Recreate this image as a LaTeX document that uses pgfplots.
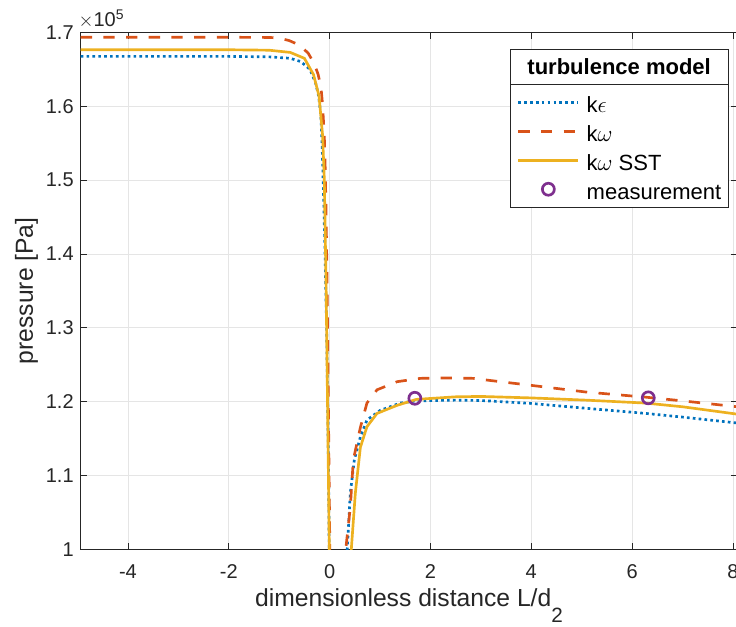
\documentclass[border=0pt]{standalone}
\usepackage{pgfplots}
\pgfplotsset{compat=1.18}
\usepackage{fontspec}
\setmainfont{Liberation Sans}
\usetikzlibrary{calc}
\definecolor{c1}{rgb}{0,0.447,0.741}
\definecolor{c2}{rgb}{0.85,0.325,0.098}
\definecolor{c3}{rgb}{0.929,0.694,0.125}
\definecolor{c4}{rgb}{0.494,0.184,0.556}
\definecolor{axc}{rgb}{0.15,0.15,0.15}

\pgfplotstableread{
x y
-4.937 166770
-3.0 166770
-2.0 166760
-1.2 166700
-0.78 166500
-0.57 166050
-0.39 165000
-0.28 163200
-0.22 161500
-0.177 159000
-0.15 155000
-0.12 148000
-0.09 140000
-0.06 130000
-0.035 118000
-0.018 108000
-0.005 97000
0.335 97000
0.35 100000
0.41 107600
0.49 112100
0.61 115200
0.74 117500
1.0 118800
1.40 119800
1.72 120100
2.5 120200
3.0 120150
4.0 119750
5.08 119100
6.27 118400
7.0 117900
8.085 117100
}\ke

\pgfplotstableread{
x y
-4.937 169360
-2.0 169350
-1.2 169330
-1.0 169250
-0.8 168900
-0.6 168300
-0.425 167200
-0.3 165700
-0.227 164300
-0.17 162500
-0.142 160400
-0.106 156100
-0.085 151000
-0.07 145400
-0.05 136000
-0.035 126000
-0.015 113000
0.0 103000
0.01 97000
0.31 97000
0.32 100000
0.41 105700
0.47 112100
0.61 116500
0.74 119800
0.94 121600
1.34 122700
1.80 123150
2.3 123200
2.85 123150
3.2 122850
4.0 122200
5.08 121300
6.27 120600
7.0 120100
8.085 119300
}\kw

\pgfplotstableread{
x y
-4.937 167670
-2.0 167660
-1.2 167600
-0.78 167300
-0.5 166500
-0.32 164300
-0.21 161400
-0.14 156100
-0.106 150200
-0.07 135700
-0.035 116300
-0.01 102000
0.0 97000
0.41 97000
0.43 100000
0.51 107600
0.61 113800
0.74 116600
0.94 118400
1.34 119500
1.72 120300
2.5 120650
3.0 120700
4.0 120500
5.08 120200
6.27 119800
7.0 119300
8.085 118300
}\sst

\pgfplotstableread{
x y
1.69 120450
6.32 120510
}\meas

\begin{document}
\begin{tikzpicture}
\begin{axis}[
  at={(0pt,0pt)}, anchor=south west,
  scale only axis, width=492.2pt, height=387.4pt,
  xmin=-4.937, xmax=8.085, ymin=100000, ymax=170000,
  xtick={-4,-2,...,8}, ytick={100000,110000,...,170000},
  scaled y ticks=base 10:-5,
  ytick scale label code/.code={$\times$10\textsuperscript{5}},
  every y tick scale label/.style={at={(rel axis cs:0,1)}, anchor=south west, inner sep=0pt, yshift=3pt, font=\fontsize{15}{18}\selectfont, text=axc},
  grid=major, major grid style={draw=black!10, line width=0.6pt},
  tick align=inside, major tick length=5pt,
  axis line style={draw=axc, line width=0.6pt},
  tick style={axc, line width=0.6pt},
  ticklabel style={font=\fontsize{15}{18}\selectfont, text=axc},
  xticklabel style={yshift=-8pt},
  yticklabel style={xshift=-1.75pt},
  /pgf/number format/assume math mode=true,
  xlabel={dimensionless distance L/d\raisebox{-0.65em}{\fontsize{15.5}{15.5}\selectfont 2}},
  ylabel={pressure [Pa]},
  label style={font=\fontsize{18.5}{22}\selectfont, text=axc},
  xlabel style={at={(axis description cs:0.5,0)}, anchor=base, yshift=-42.75pt},
  ylabel style={at={(axis description cs:-0.0727,0.5)}, anchor=base, rotate=0},
  legend style={at={(rel axis cs:0.9864,0.9002)}, anchor=north east, draw=axc, line width=0.6pt, fill=white,
    font=\fontsize{16.5}{19}\selectfont, inner xsep=5pt, inner ysep=5.8pt, row sep=6.75pt, column sep=5.25pt,
    nodes={inner xsep=0pt, inner ysep=0pt, text height=15pt, text depth=0pt}, name=leg},
  legend cell align=left,
  legend image code/.code={\draw[mark repeat=2,mark phase=2,#1] plot coordinates {(0pt,0pt) (22.5pt,0pt) (45pt,0pt)};},
]
\addplot[c1, line width=2pt, dash pattern=on 2pt off 2.4pt] table[x=x,y=y] {\ke};
\addlegendentry{k$\epsilon$}
\addplot[c2, line width=2pt, dash pattern=on 8.5pt off 8.5pt] table[x=x,y=y] {\kw};
\addlegendentry{k$\omega$}
\addplot[c3, line width=2pt] table[x=x,y=y] {\sst};
\addlegendentry{k$\omega$ SST}
\addplot[only marks, mark=o, mark size=4.5pt, mark options={c4, line width=2pt}] table[x=x,y=y] {\meas};
\addlegendentry{measurement}
\end{axis}
\path let \p1=(leg.north west), \p2=(leg.north east) in
  node[draw=axc, line width=0.6pt, fill=white, anchor=south west, outer sep=0pt, inner sep=0pt,
       minimum width=\x2-\x1, minimum height=26.25pt, font=\fontsize{16.5}{19}\selectfont\bfseries]
  at (\p1) {turbulence model};
\pgfresetboundingbox
\path[use as bounding box] (-60.5pt,-57.75pt) rectangle (491.25pt,411.75pt);
\end{tikzpicture}
\end{document}
